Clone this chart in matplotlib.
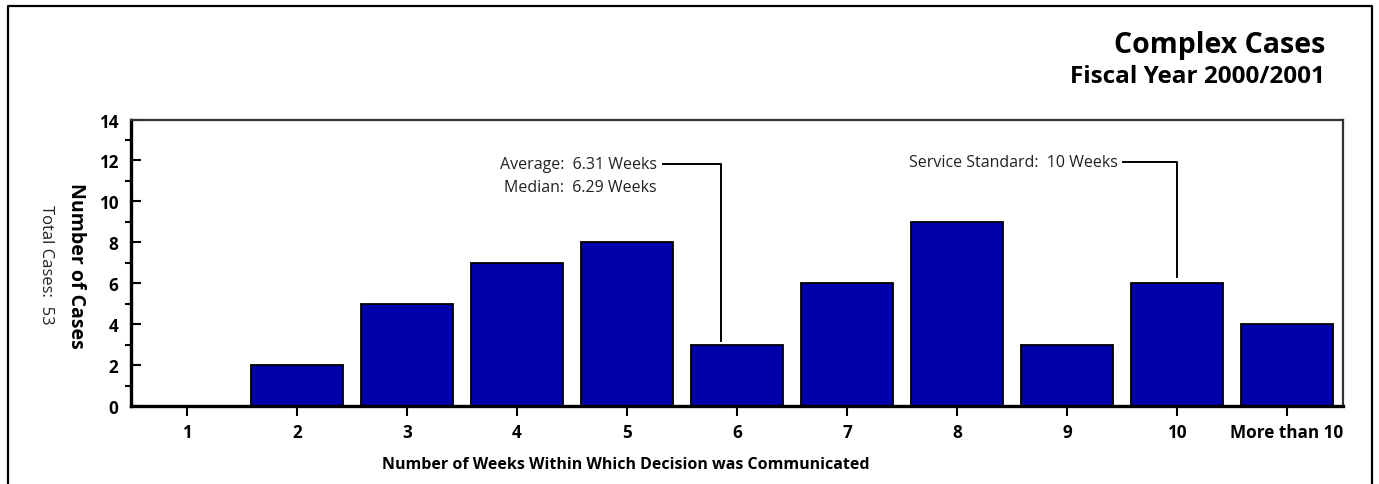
import matplotlib
matplotlib.use("Agg")
import matplotlib.pyplot as plt
from matplotlib.ticker import MultipleLocator

plt.rcParams['font.family'] = ['Open Sans', 'DejaVu Sans']

# Distribution of decision times for complex cases
categories = ["1", "2", "3", "4", "5", "6", "7", "8", "9", "10", "More than 10"]
cases = [0, 2, 5, 7, 8, 3, 6, 9, 3, 6, 4]
total_cases = 53
average_weeks = 6.31
median_weeks = 6.29
service_standard = 10

W, H = 1379, 485
fig = plt.figure(figsize=(W / 100, H / 100), dpi=100)

# outer frame (open at the bottom)
fig.add_artist(plt.Line2D([8 / W, 8 / W, 1372 / W, 1372 / W],
                          [0, 1 - 6.5 / H, 1 - 6.5 / H, 0],
                          transform=fig.transFigure, color='black', lw=1.6))

ax = fig.add_axes([131 / W, 1 - 407 / H, (1343 - 131) / W, (407 - 120.5) / H])

x = list(range(1, len(categories) + 1))
ax.bar(x, cases, width=0.84, color='#0000AA', edgecolor='black', linewidth=1.3, zorder=2)

ax.set_xlim(0.49, 11.51)
ax.set_ylim(0, 14)
ax.set_xticks(x)
ax.set_xticklabels(categories, fontsize=12.3, fontweight='bold')
ax.yaxis.set_major_locator(MultipleLocator(2))
ax.yaxis.set_minor_locator(MultipleLocator(1))
for lbl in ax.get_yticklabels():
    lbl.set_fontsize(12.3)
    lbl.set_fontweight('bold')
ax.tick_params(axis='y', which='major', direction='in', length=7, width=1.5, pad=9)
ax.tick_params(axis='y', which='minor', direction='out', length=4, width=1.5)
ax.tick_params(axis='x', which='major', direction='out', length=7, width=1.5, pad=5)

for side in ('left', 'bottom'):
    ax.spines[side].set_linewidth(2.4)
    ax.spines[side].set_color('black')
for side in ('top', 'right'):
    ax.spines[side].set_linewidth(1.6)
    ax.spines[side].set_color('#333333')

# average / median callout
ax.text(5.27, 11.83, f"Average:  {average_weeks:.2f} Weeks", ha='right', va='center', fontsize=11.5, color='#222222')
ax.text(5.27, 10.72, f"Median:  {median_weeks:.2f} Weeks", ha='right', va='center', fontsize=11.5, color='#222222')
ax.plot([5.33, 5.855, 5.855], [11.83, 11.83, 3.2], color='black', lw=1.4, zorder=3)

# service standard callout
ax.text(9.46, 11.9, f"Service Standard:  {service_standard} Weeks", ha='right', va='center', fontsize=11.5, color='#222222')
ax.plot([9.51, service_standard, service_standard], [11.9, 11.9, 6.3], color='black', lw=1.4, zorder=3)

# titles and axis labels
fig.text(1325 / W, 1 - 45 / H, "Complex Cases", ha='right', va='center', fontsize=20.5, fontweight='bold')
fig.text(1325 / W, 1 - 77 / H, "Fiscal Year 2000/2001", ha='right', va='center', fontsize=17.5, fontweight='bold')
fig.text(76 / W, 1 - 266 / H, "Number of Cases", rotation=270, ha='center', va='center', fontsize=14, fontweight='bold')
fig.text(46 / W, 1 - 265 / H, f"Total Cases:  {total_cases}", rotation=270, ha='center', va='center', fontsize=12, color='#222222')
fig.text(626 / W, 1 - 465 / H, "Number of Weeks Within Which Decision was Communicated", ha='center', va='center', fontsize=11.5, fontweight='bold')

fig.savefig("out.png", dpi=100)
